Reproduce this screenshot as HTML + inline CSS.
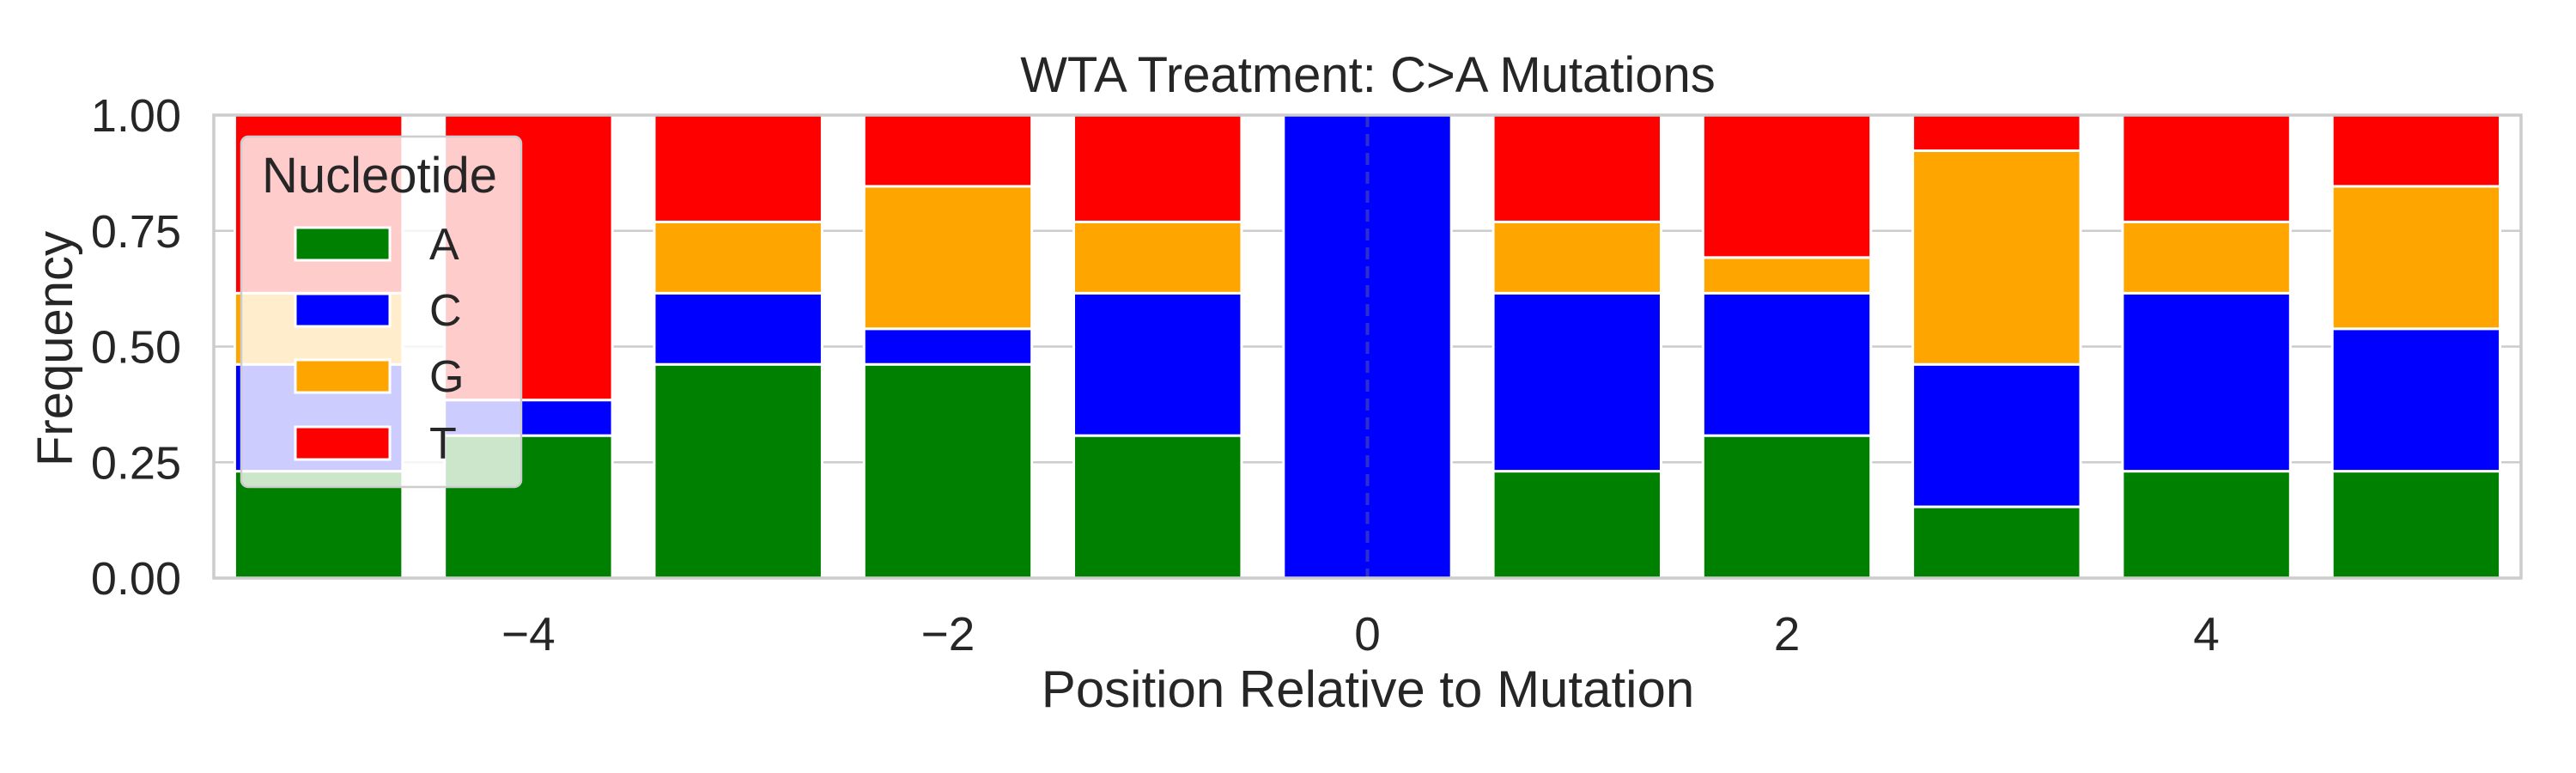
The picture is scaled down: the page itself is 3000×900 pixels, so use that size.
<!DOCTYPE html>
<html><head><meta charset="utf-8"><style>
html,body{margin:0;padding:0;background:#fff;}
svg{display:block;font-family:"Liberation Sans",Arial,sans-serif;}
</style></head><body>
<svg id="chart" width="3000" height="900" viewBox="0 0 3000 900" xmlns="http://www.w3.org/2000/svg">
<g id="grid"></g>
<g id="bars"></g>
<g id="axes"></g>
<text x="1593" y="107" text-anchor="middle" font-size="58" fill="#262626">WTA Treatment: C&gt;A Mutations</text>
<text x="1593" y="823" text-anchor="middle" font-size="60" fill="#262626">Position Relative to Mutation</text>
<text transform="translate(84,406) rotate(-90)" text-anchor="middle" font-size="58" fill="#262626">Frequency</text>
<g id="legend"></g>
</svg>
<script>
const positions = [-5,-4,-3,-2,-1,0,1,2,3,4,5];
const seriesA = [3/13,4/13,6/13,6/13,4/13,0,3/13,4/13,2/13,3/13,3/13];
const seriesC = [3/13,1/13,2/13,1/13,4/13,1,5/13,4/13,4/13,5/13,4/13];
const seriesG = [2/13,0,2/13,4/13,2/13,0,2/13,1/13,6/13,2/13,4/13];
const seriesT = [5/13,8/13,3/13,2/13,3/13,0,3/13,4/13,1/13,3/13,2/13];
const yTicks = [0,0.25,0.5,0.75,1.0];
const yTickLabels = ["0.00","0.25","0.50","0.75","1.00"];
const xTicks = [-4,-2,0,2,4];
const xTickLabels = ["\u22124","\u22122","0","2","4"];
const seriesNames = ["A","C","G","T"];

const NS="http://www.w3.org/2000/svg";
const L=249,R=2936,T=134,B=673,xmin=-5.5,xmax=5.5;
const xs=v=>L+(v-xmin)/(xmax-xmin)*(R-L);
const ys=v=>B-v*(B-T);
function mk(tag,attrs,parent){const e=document.createElementNS(NS,tag);for(const k in attrs)e.setAttribute(k,attrs[k]);parent.appendChild(e);return e;}
const colors=["#008000","#0000ff","#ffa500","#ff0000"];
const grid=document.getElementById('grid'),bars=document.getElementById('bars'),axes=document.getElementById('axes'),legend=document.getElementById('legend');
yTicks.forEach((t,i)=>{
  if(t>0&&t<1){const g=mk('line',{x1:L,x2:R,y1:ys(t),y2:ys(t),stroke:'#cccccc','stroke-width':2.5},grid);
  
  }
  const tx=mk('text',{x:L-38,y:ys(t)+19,'text-anchor':'end','font-size':54,fill:'#262626'},axes);
  tx.textContent=yTickLabels[i];
  
  
});
xTicks.forEach((t,i)=>{
  const tx=mk('text',{x:xs(t),y:757,'text-anchor':'middle','font-size':55,fill:'#262626'},axes);
  tx.textContent=xTickLabels[i];
  
  
});
const allS=[seriesA,seriesC,seriesG,seriesT];
positions.forEach((p,i)=>{
  let base=0;
  allS.forEach((s,k)=>{
    const v=s[i];
    if(v>0){
      const r=mk('rect',{x:xs(p-0.4),y:ys(base+v),width:xs(p+0.4)-xs(p-0.4),height:ys(base)-ys(base+v),fill:colors[k],stroke:'#fff','stroke-width':3},bars);
      
      
    }
    base+=v;
  });
});
const dl=mk('line',{x1:xs(0),x2:xs(0),y1:T,y2:B,stroke:'#4444bb','stroke-width':4,'stroke-dasharray':'14,8',opacity:0.7},bars);


const fr=mk('rect',{x:L,y:T,width:R-L,height:B-T,fill:'none',stroke:'#cccccc','stroke-width':3.5},axes);


// legend
const lb=mk('rect',{x:281,y:159,width:326,height:408,rx:8,fill:'#ffffff','fill-opacity':0.8,stroke:'#cccccc','stroke-width':2.5},legend);


const lt=mk('text',{x:442,y:224,'text-anchor':'middle','font-size':58,fill:'#262626'},legend);
lt.textContent='Nucleotide';


const ey=[284,361,438,516];
seriesNames.forEach((n,k)=>{
  const g=mk('g',{},legend);
  
  
  mk('rect',{x:344,y:ey[k]-19,width:110,height:38,fill:colors[k],stroke:'#fff','stroke-width':3},g);
  const t=mk('text',{x:500,y:ey[k]+18,'font-size':52,fill:'#262626'},g);
  t.textContent=n;
});
</script>
</body></html>
